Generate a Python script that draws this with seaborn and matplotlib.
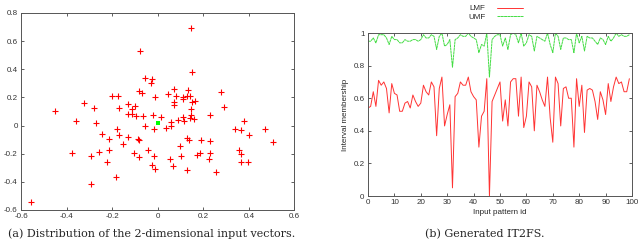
import numpy as np
import pandas as pd
import seaborn as sns
import matplotlib
matplotlib.use("Agg")
import matplotlib.pyplot as plt
from matplotlib.ticker import FuncFormatter, MultipleLocator

# scatter of the 2-d input vectors
vec_x = [0.147, -0.077, 0.150, -0.058, -0.026, -0.029, -0.084, -0.068, 0.073, 0.133,
         0.278, 0.043, -0.201, -0.175, -0.011, 0.080, 0.111, 0.130, 0.143, 0.113,
         0.165, 0.149, 0.070, 0.073, -0.326, -0.132, -0.102, -0.112, -0.171, -0.279,
         -0.451, 0.291, 0.147, -0.132, -0.112, -0.095, -0.065, -0.023, 0.014, 0.113,
         0.147, 0.143, 0.157, 0.231, -0.357, -0.273, 0.090, 0.115, 0.056, 0.377,
         -0.055, 0.058, 0.037, -0.177, -0.017, 0.339, 0.366, 0.470, -0.247, -0.171,
         -0.129, -0.088, -0.083, -0.216, 0.128, 0.138, 0.190, 0.231, 0.399, 0.505,
         -0.153, 0.099, -0.043, -0.213, 0.355, -0.376, -0.257, -0.103, 0.229, 0.184,
         0.366, -0.291, -0.084, -0.017, 0.102, 0.174, 0.052, 0.226, -0.224, 0.364,
         0.398, -0.026, 0.068, -0.012, 0.128, 0.254, -0.182, -0.291, -0.557]
vec_y = [0.696, 0.530, 0.384, 0.339, 0.332, 0.303, 0.247, 0.233, 0.261, 0.255,
         0.240, 0.225, 0.212, 0.212, 0.200, 0.212, 0.205, 0.212, 0.212, 0.188,
         0.178, 0.169, 0.164, 0.143, 0.157, 0.152, 0.140, 0.121, 0.124, 0.124,
         0.105, 0.131, 0.119, 0.083, 0.081, 0.069, 0.065, 0.072, 0.060, 0.060,
         0.074, 0.057, 0.050, 0.072, 0.031, 0.017, 0.039, 0.034, 0.022, 0.034,
         -0.002, -0.006, -0.016, -0.023, -0.025, -0.027, -0.035, -0.025, -0.063, -0.065,
         -0.080, -0.094, -0.100, -0.096, -0.087, -0.106, -0.106, -0.108, -0.068, -0.115,
         -0.129, -0.143, -0.177, -0.177, -0.172, -0.195, -0.191, -0.193, -0.195, -0.193,
         -0.205, -0.219, -0.221, -0.217, -0.217, -0.212, -0.236, -0.236, -0.258, -0.258,
         -0.258, -0.281, -0.291, -0.310, -0.319, -0.331, -0.369, -0.412, -0.543]
center_x = [0.0]
center_y = [0.017]

# interval membership per input pattern
lmf = [0.54, 0.55, 0.64, 0.55, 0.71, 0.68, 0.70, 0.66, 0.51, 0.69,
       0.63, 0.62, 0.52, 0.52, 0.57, 0.58, 0.54, 0.62, 0.58, 0.55,
       0.57, 0.68, 0.64, 0.62, 0.70, 0.67, 0.37, 0.66, 0.73, 0.43,
       0.50, 0.56, 0.05, 0.61, 0.63, 0.70, 0.68, 0.68, 0.73, 0.64,
       0.61, 0.59, 0.30, 0.49, 0.52, 0.72, 0.00, 0.58, 0.62, 0.66,
       0.70, 0.46, 0.59, 0.43, 0.70, 0.72, 0.72, 0.49, 0.73, 0.42,
       0.49, 0.70, 0.67, 0.40, 0.68, 0.64, 0.59, 0.55, 0.73, 0.48,
       0.33, 0.73, 0.69, 0.43, 0.66, 0.67, 0.60, 0.60, 0.30, 0.72,
       0.55, 0.68, 0.39, 0.65, 0.66, 0.65, 0.58, 0.47, 0.64, 0.59,
       0.50, 0.69, 0.58, 0.67, 0.73, 0.69, 0.70, 0.64, 0.64, 0.72]
umf = [0.95, 0.95, 0.97, 0.94, 0.99, 0.99, 0.99, 0.97, 0.93, 0.98,
       0.96, 0.96, 0.94, 0.94, 0.96, 0.95, 0.95, 0.96, 0.96, 0.95,
       0.96, 0.99, 0.97, 0.97, 0.99, 0.98, 0.90, 0.98, 1.00, 0.92,
       0.93, 0.96, 0.79, 0.96, 0.97, 0.99, 0.98, 0.98, 1.00, 0.98,
       0.97, 0.96, 0.88, 0.93, 0.92, 1.00, 0.73, 0.96, 0.98, 0.99,
       0.99, 0.92, 0.97, 0.90, 0.99, 1.00, 0.99, 0.94, 1.00, 0.92,
       0.94, 0.99, 0.98, 0.89, 0.98, 0.97, 0.96, 0.95, 1.00, 0.93,
       0.88, 1.00, 0.98, 0.90, 0.97, 0.97, 0.96, 0.96, 0.88, 1.00,
       0.94, 0.98, 0.89, 0.98, 0.97, 0.97, 0.95, 0.93, 0.97, 0.96,
       0.93, 0.98, 0.95, 0.97, 1.00, 0.98, 0.99, 0.98, 0.98, 0.99]
pattern_id = list(range(len(lmf)))

sns.set_style("ticks")
plt.rcParams['font.family'] = ['Liberation Sans', 'DejaVu Sans']
plt.rcParams['axes.unicode_minus'] = False
plt.rcParams['xtick.direction'] = 'in'
plt.rcParams['ytick.direction'] = 'in'

fmt = FuncFormatter(lambda v, p: '%g' % round(v, 3))

fig = plt.figure(figsize=(6.4, 2.45), dpi=100)
ax1 = fig.add_axes([0.033, 0.143, 0.427, 0.804])
ax2 = fig.add_axes([0.575, 0.200, 0.4125, 0.665])

# (a) scatter
sns.scatterplot(x=vec_x, y=vec_y, ax=ax1, marker='+', color='#ff0000',
                s=14, linewidth=0.8)
sns.scatterplot(x=center_x, y=center_y, ax=ax1, marker='s', color='#00ff00',
                s=10, linewidth=0)
ax1.set_xlim(-0.6, 0.6)
ax1.set_ylim(-0.6, 0.8)
ax1.xaxis.set_major_locator(MultipleLocator(0.2))
ax1.yaxis.set_major_locator(MultipleLocator(0.2))

# (b) membership lines
df = pd.DataFrame({'id': pattern_id, 'LMF': lmf, 'UMF': umf})
sns.lineplot(data=df, x='id', y='LMF', ax=ax2, color='#ff3333', linewidth=0.7, label='LMF')
sns.lineplot(data=df, x='id', y='UMF', ax=ax2, color='#44dd44', linewidth=0.7,
             linestyle=(0, (3, 0.4)), label='UMF')
ax2.set_xlim(0, 100)
ax2.set_ylim(0, 1)
ax2.xaxis.set_major_locator(MultipleLocator(10))
ax2.yaxis.set_major_locator(MultipleLocator(0.2))
ax2.set_xlabel('Input pattern id', fontsize=5.8, labelpad=2)
ax2.set_ylabel('Interval membership', fontsize=5.8, labelpad=3)
handles, labels = ax2.get_legend_handles_labels()
ax2.get_legend().remove()
fig.legend(handles, labels, loc='upper right', bbox_to_anchor=(0.825, 1.0),
           frameon=False, markerfirst=False, fontsize=5.8, handlelength=3.2,
           handletextpad=1.5, labelspacing=0.1, borderpad=0.1)

for ax in (ax1, ax2):
    ax.xaxis.set_major_formatter(fmt)
    ax.yaxis.set_major_formatter(fmt)
    ax.tick_params(axis='both', which='both', labelsize=5.8, length=2.5, width=0.6,
                   top=True, right=True, pad=2.5, colors='#444444', labelcolor='#333333')
    for sp in ax.spines.values():
        sp.set_visible(True)
        sp.set_linewidth(0.7)
        sp.set_color('#555555')

fig.text(0.237, 0.025, '(a) Distribution of the 2-dimensional input vectors.',
         ha='center', va='bottom', fontsize=8, family=['DejaVu Serif'])
fig.text(0.757, 0.025, '(b) Generated IT2FS.',
         ha='center', va='bottom', fontsize=8, family=['DejaVu Serif'])

fig.savefig('out.png', dpi=100)
